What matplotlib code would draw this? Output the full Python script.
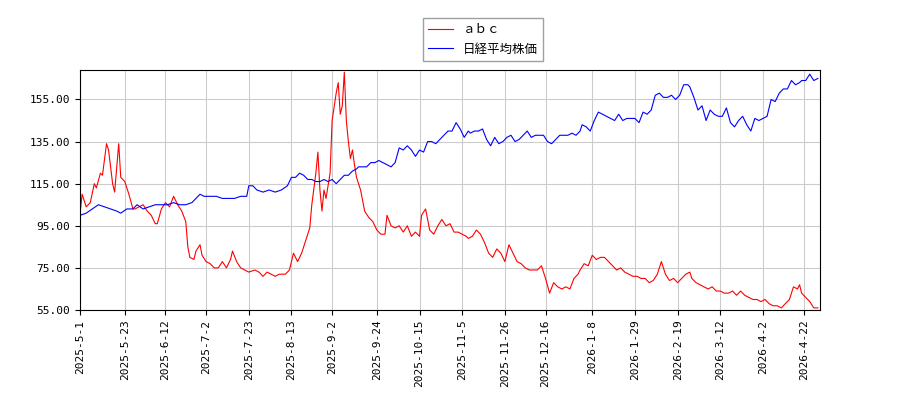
import matplotlib
matplotlib.use("Agg")
import matplotlib.pyplot as plt
import pandas as pd
import numpy as np

plt.rcParams['font.family'] = ['Noto Sans CJK JP', 'DejaVu Sans']

start = pd.Timestamp("2025-05-01")
red_days = [0,1,3,5,7,8,10,11,13,14,16,17,19,20,22,24,26,27,29,31,33,35,37,38,40,42,44,46,48,50,52,53,54,56,57,59,60,62,64,66,68,70,72,74,75,77,79,81,83,86,88,90,92,94,96,98,101,103,105,107,109,111,113,114,116,117,118,119,120,121,123,124,126,127,128,129,130,131,132,133,134,135,136,138,140,142,144,146,148,150,151,153,155,157,159,161,163,165,167,168,170,172,174,176,178,180,182,184,186,188,190,191,193,195,197,199,201,203,205,207,209,211,213,215,217,219,221,223,225,227,229,231,233,235,237,239,241,243,245,246,248,250,252,254,256,258,260,262,264,266,268,270,272,274,276,278,280,282,284,286,288,290,292,294,296,298,300,301,303,305,307,309,311,313,315,317,319,321,323,325,327,329,331,333,335,337,339,341,343,345,347,349,351,353,354,355,357,359,361,363]
red_vals = [101,110,104,106,115,113,120,119,134,131,115,111,134,118,116,110,103,103,104,105,102,100,96,96,103,106,104,109,105,102,97,85,80,79,83,86,81,78,77,75,75,78,75,79,83,78,75,74,73,74,73,71,73,72,71,72,72,74,82,78,82,88,94,105,120,130,112,102,112,108,120,145,158,163,148,152,168,145,135,127,131,124,118,112,102,99,97,93,91,91,100,95,94,95,92,95,90,92,90,100,103,93,91,95,98,95,96,92,92,91,90,89,90,93,91,87,82,80,84,82,78,86,82,78,77,75,74,74,74,76,70,63,68,66,65,66,65,70,72,74,77,76,81,79,80,80,78,76,74,75,73,72,71,71,70,70,68,69,72,78,72,69,70,68,70,72,73,70,68,67,66,65,66,64,64,63,63,64,62,64,62,61,60,60,59,60,58,57,57,56,58,60,66,65,67,63,61,59,56,56]
blue_days = [0,3,6,9,12,15,18,20,23,26,28,31,34,37,40,43,46,49,52,55,57,59,61,64,67,70,73,76,79,82,83,85,87,90,93,96,99,102,104,
106,108,110,112,114,116,118,120,122,124,126,128,130,132,134,136,137,139,141,143,145,147,149,151,153,155,157,159,161,163,165,167,169,171,173,175,177,179,181,183,185,187,189,191,192,194,196,198,200,202,204,206,208,210,212,214,216,218,220,222,224,226,228,230,232,234,236,238,240,242,244,246,247,249,251,253,255,257,259,261,263,265,267,269,271,273,275,277,279,281,283,285,287,289,291,293,295,297,299,300,302,304,306,308,310,312,314,316,318,320,322,324,326,328,330,332,334,336,338,340,342,344,346,348,350,352,354,355,357,359,361,363]
blue_vals = [100,101,103,105,104,103,102,101,103,103,105,103,104,105,105,105,106,105,105,106,108,110,109,109,109,108,108,108,109,109,114,114,112,111,112,111,112,114,118,
118,120,119,117,117,116,116,117,116,117,115,117,119,119,121,122,123,123,123,125,125,126,125,124,123,125,132,131,133,131,128,131,130,135,135,134,136,138,140,140,144,141,137,140,139,140,140,141,136,133,137,134,135,137,138,135,136,138,140,137,138,138,138,135,134,136,138,138,138,139,138,140,143,142,140,145,149,148,147,146,145,148,145,146,146,146,144,149,148,150,157,158,156,156,157,155,157,162,162,161,156,150,152,145,150,148,147,147,151,144,142,145,147,143,140,146,145,146,147,155,154,158,160,160,164,162,163,164,164,167,164,165]
n = min(len(blue_days), len(blue_vals)); blue_days, blue_vals = blue_days[:n], blue_vals[:n]
m = min(len(red_days), len(red_vals)); red_days, red_vals = red_days[:m], red_vals[:m]
labels = ["ａｂｃ", "日経平均株価"]
yticks = [55, 75, 95, 115, 135, 155]
xtick_labels = ["2025-5-1", "2025-5-23", "2025-6-12", "2025-7-2", "2025-7-23", "2025-8-13",
                "2025-9-2", "2025-9-24", "2025-10-15", "2025-11-5", "2025-11-26", "2025-12-16",
                "2026-1-8", "2026-1-29", "2026-2-19", "2026-3-12", "2026-4-2", "2026-4-22"]

rd = start + pd.to_timedelta(red_days, unit="D")
bd = start + pd.to_timedelta(blue_days, unit="D")

fig = plt.figure(figsize=(9, 4), dpi=100)
ax = fig.add_axes([0.089, 0.225, 0.822, 0.6])
ax.plot(rd, red_vals, color="red", lw=0.8, label=labels[0])
ax.plot(bd, blue_vals, color="blue", lw=0.8, label=labels[1])
ax.set_ylim(55, 169)
ax.set_xlim(start, start + pd.Timedelta(days=364))
ax.set_yticks(yticks)
ax.set_yticklabels([f"{v:.2f}" for v in yticks], family="DejaVu Sans Mono", fontsize=8)
xt = pd.to_datetime(xtick_labels)
ax.set_xticks(xt)
ax.set_xticklabels(xtick_labels, rotation=90, family="DejaVu Sans Mono", fontsize=8)
ax.grid(True, color="#cccccc", lw=0.8)
fig.legend(loc="upper center", bbox_to_anchor=(0.537, 0.97), fontsize=9, fancybox=False, edgecolor="#888888")
fig.savefig("out.png")
